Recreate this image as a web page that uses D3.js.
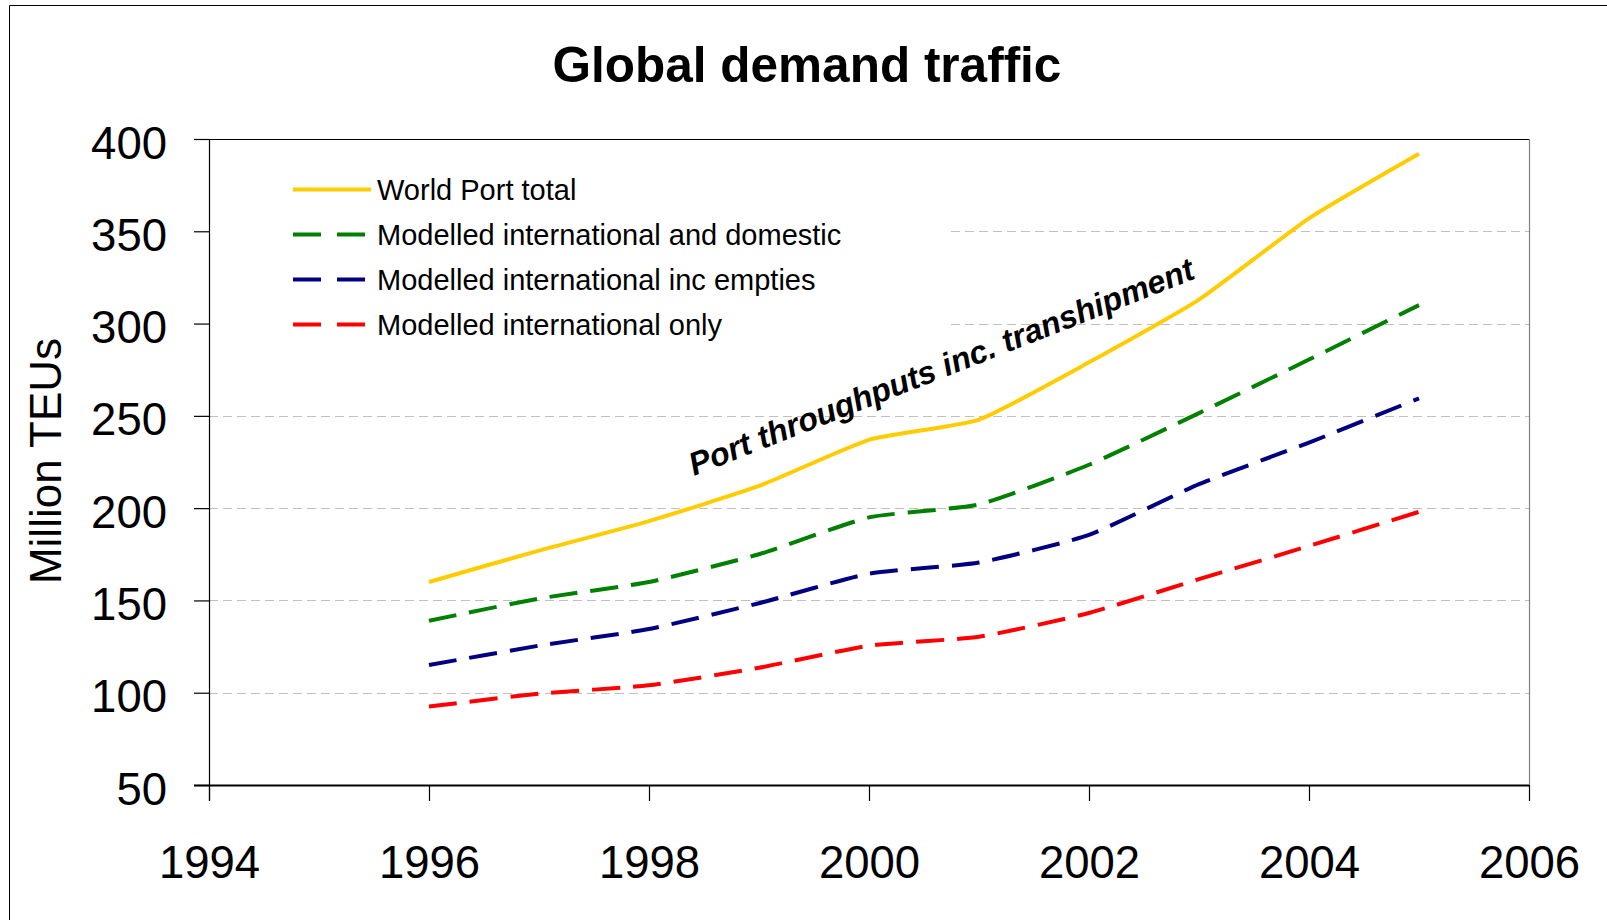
<!DOCTYPE html>
<html>
<head>
<meta charset="utf-8">
<script src="https://cdn.jsdelivr.net/npm/d3@7"></script>
<style>
  html, body { margin: 0; padding: 0; background: #fff; }
  svg { display: block; font-family: "Liberation Sans", Arial, sans-serif; }
</style>
</head>
<body>
<svg id="chart" width="1607" height="920"></svg>
<script>
// ---- data ----
const years = [1996, 1997, 1998, 1999, 2000, 2001, 2002, 2003, 2004, 2005];
const worldPortTotal = [160, 177, 193, 212, 237, 248, 279, 313, 357, 392];
const intlAndDomestic = [139, 151, 160, 175, 195, 202, 223.5, 251.5, 280.5, 310];
const intlIncEmpties = [115, 125.5, 134.5, 148.5, 164.5, 170.5, 185.5, 213, 235.5, 259.5];
const intlOnly = [92.5, 99.5, 104, 113.5, 125.5, 130.3, 143.2, 161.5, 179.5, 198];
const xTicks = [1994, 1996, 1998, 2000, 2002, 2004, 2006];
const yTicks = [50, 100, 150, 200, 250, 300, 350, 400];
const gridValues = [100, 150, 200, 250, 300, 350];
const seriesNames = [
  "World Port total",
  "Modelled international and domestic",
  "Modelled international inc empties",
  "Modelled international only"
];
const seriesColors = ["#FFCC00", "#008000", "#000080", "#FF0000"];
const titleText = "Global demand traffic";
const yTitle = "Million TEUs";
const annotation = "Port throughputs inc. transhipment";

// ---- layout ----
const svg = d3.select("#chart");
const L = 209, R = 1529, T = 139, B = 785;
const x = d3.scaleLinear().domain([1994, 2006]).range([L, R]);
const y = d3.scaleLinear().domain([50, 400]).range([B, T]);

// outer chart border (extends past bottom/right)
svg.append("line").attr("x1", 9.5).attr("x2", 1607).attr("y1", 5.5).attr("y2", 5.5)
  .attr("stroke", "#000").attr("stroke-width", 1);
svg.append("line").attr("x1", 9.5).attr("x2", 9.5).attr("y1", 5.5).attr("y2", 920)
  .attr("stroke", "#000").attr("stroke-width", 1);

// title
svg.append("text").attr("x", 807).attr("y", 82)
  .attr("text-anchor", "middle").attr("font-size", 49.5).attr("font-weight", "bold")
  .text(titleText);

// gridlines
svg.append("g").selectAll("line").data(gridValues).join("line")
  .attr("x1", L).attr("x2", R)
  .attr("y1", d => Math.round(y(d)) + 0.5).attr("y2", d => Math.round(y(d)) + 0.5)
  .attr("stroke", "#c0c0c0").attr("stroke-width", 1).attr("stroke-dasharray", "9,5");

// plot border top & right
svg.append("line").attr("x1", L).attr("x2", R).attr("y1", T + 0.5).attr("y2", T + 0.5)
  .attr("stroke", "#000").attr("stroke-width", 1.2);
svg.append("line").attr("x1", R + 0.5).attr("x2", R + 0.5).attr("y1", T).attr("y2", B)
  .attr("stroke", "#808080").attr("stroke-width", 1.2);

// legend background (covers gridlines)
svg.append("rect").attr("x", L + 1).attr("y", T + 2).attr("width", 948 - L - 1).attr("height", 215)
  .attr("fill", "#fff");

// y axis
const yAxis = svg.append("g").attr("transform", `translate(${L},0)`)
  .call(d3.axisLeft(y).tickValues(yTicks).tickSize(15).tickSizeOuter(0).tickPadding(27).tickFormat(d3.format("d")));
yAxis.select(".domain").attr("stroke", "#000").attr("stroke-width", 1.2).attr("d", `M0.5,${T}V${B + 16}`);
yAxis.selectAll(".tick line").attr("stroke", "#000").attr("stroke-width", 1.2);
yAxis.selectAll(".tick text").attr("font-size", 45.5).attr("fill", "#000")
  .attr("font-family", "Liberation Sans, Arial, sans-serif").attr("dy", "0.42em");

// x axis
const xAxis = svg.append("g").attr("transform", `translate(0,${B})`)
  .call(d3.axisBottom(x).tickValues(xTicks).tickSize(16).tickSizeOuter(0).tickFormat(d3.format("d")));
xAxis.select(".domain").attr("stroke", "#000").attr("stroke-width", 2).attr("d", `M${L - 15},0.5H${R}`);
xAxis.selectAll(".tick line").attr("stroke", "#000").attr("stroke-width", 1.2);
xAxis.selectAll(".tick text").attr("font-size", 45.5).attr("fill", "#000")
  .attr("font-family", "Liberation Sans, Arial, sans-serif").attr("y", 93).attr("dy", 0);

// y title
svg.append("text").attr("transform", "translate(61,461) rotate(-90)")
  .attr("text-anchor", "middle").attr("font-size", 44).text(yTitle);

// series lines
const allSeries = [worldPortTotal, intlAndDomestic, intlIncEmpties, intlOnly];
const line = d3.line().x((d, i) => x(years[i])).y(d => y(d)).curve(d3.curveCardinal.tension(0.5));
const dashes = [null, "28,13", "28,13", "28,13"];
allSeries.slice().reverse().forEach((s, ri) => {
  const i = allSeries.length - 1 - ri;
  svg.append("path").datum(s).attr("d", line)
    .attr("fill", "none").attr("stroke", seriesColors[i]).attr("stroke-width", 4)
    .attr("stroke-linejoin", "round")
    .attr("stroke-dasharray", dashes[i]);
});

// legend
const lg = svg.append("g");
seriesNames.forEach((name, i) => {
  const ry = 189.5 + i * 45;
  lg.append("line").attr("x1", 293).attr("x2", 371).attr("y1", ry).attr("y2", ry)
    .attr("stroke", seriesColors[i]).attr("stroke-width", 4)
    .attr("stroke-dasharray", i === 0 ? null : "28,16");
  lg.append("text").attr("x", 377).attr("y", ry + 10).attr("font-size", 29).text(name);
});

// annotation
svg.append("text").attr("transform", "translate(694,476) rotate(-21.5)")
  .attr("font-size", 32.2).attr("font-weight", "bold").attr("font-style", "italic")
  .text(annotation);
</script>
</body>
</html>
